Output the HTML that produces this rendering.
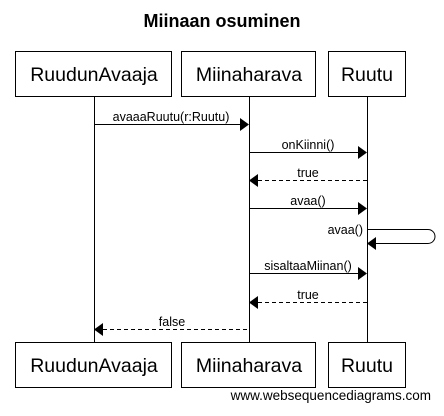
<!DOCTYPE html>
<html><head><style>body{margin:0;background:#fff}</style></head><body>
<svg width="444" height="411" xmlns="http://www.w3.org/2000/svg" font-family="Liberation Sans, Arial, sans-serif">
<rect width="444" height="411" fill="#fff"/>
<text x="222" y="27" font-size="18" font-weight="bold" text-anchor="middle">Miinaan osuminen</text>
<g stroke="#000" fill="#fff" stroke-width="1">
<line x1="94.5" y1="96" x2="94.5" y2="342"/>
<line x1="249.5" y1="96" x2="249.5" y2="342"/>
<line x1="367.5" y1="96" x2="367.5" y2="342"/>
<rect x="15.5" y="51.5" width="156" height="45"/>
<rect x="181.5" y="51.5" width="134" height="45"/>
<rect x="328.5" y="51.5" width="77" height="45"/>
<rect x="15.5" y="342.5" width="156" height="45"/>
<rect x="181.5" y="342.5" width="134" height="45"/>
<rect x="328.5" y="342.5" width="77" height="45"/>
</g>
<g font-size="19.5" text-anchor="middle">
<text x="94" y="81">RuudunAvaaja</text><text x="249" y="81">Miinaharava</text><text x="367" y="81">Ruutu</text>
<text x="94" y="372">RuudunAvaaja</text><text x="249" y="372">Miinaharava</text><text x="367" y="372">Ruutu</text>
</g>
<g stroke="#000" stroke-width="1" fill="none">
<line x1="94" y1="124.5" x2="240" y2="124.5"/>
<line x1="249" y1="152.5" x2="358" y2="152.5"/>
<line x1="258" y1="180.5" x2="367" y2="180.5" stroke-dasharray="4,3"/>
<line x1="249" y1="208.5" x2="358" y2="208.5"/>
<path d="M367 229.5 H428 A7 7 0 0 1 428 243.5 H376"/>
<line x1="249" y1="273.5" x2="358" y2="273.5"/>
<line x1="258" y1="302.5" x2="367" y2="302.5" stroke-dasharray="4,3"/>
<line x1="103" y1="329.5" x2="249" y2="329.5" stroke-dasharray="4,3"/>
</g>
<g fill="#000">
<polygon points="240,118 249,124.5 240,131"/>
<polygon points="358,146 367,152.5 358,159"/>
<polygon points="258,174 249,180.5 258,187"/>
<polygon points="358,202 367,208.5 358,215"/>
<polygon points="376,237 367,243.5 376,250"/>
<polygon points="358,267 367,273.5 358,280"/>
<polygon points="258,296 249,302.5 258,309"/>
<polygon points="103,323 94,329.5 103,336"/>
</g>
<g font-size="12.5" text-anchor="middle">
<text x="171" y="121">avaaaRuutu(r:Ruutu)</text>
<text x="308" y="149">onKiinni()</text>
<text x="308" y="177">true</text>
<text x="308" y="205">avaa()</text>
<text x="363" y="234" text-anchor="end">avaa()</text>
<text x="308" y="270">sisaltaaMiinan()</text>
<text x="308" y="299">true</text>
<text x="172" y="326">false</text>
</g>
<text x="431" y="400" font-size="13.5" text-anchor="end">www.websequencediagrams.com</text>
</svg>
</body></html>
